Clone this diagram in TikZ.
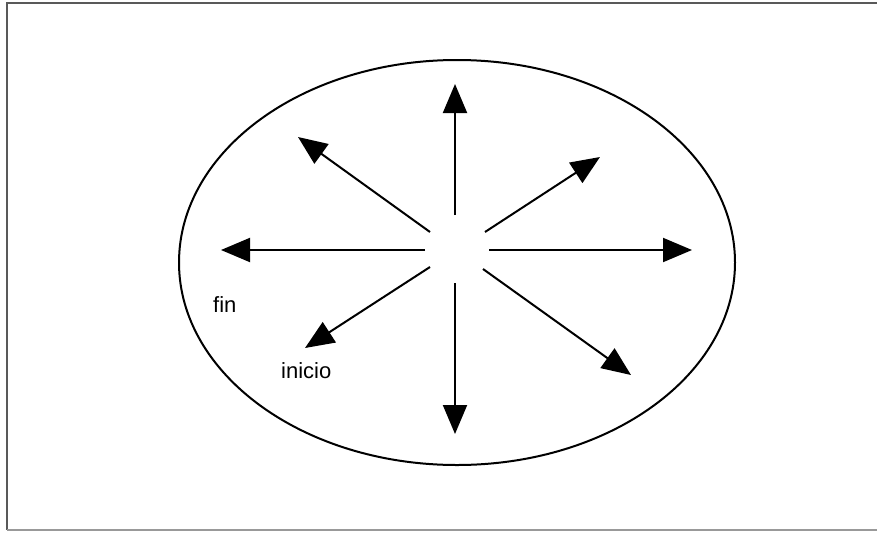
\documentclass[tikz,border=0pt]{standalone}
\usepackage{fontspec}
\setmainfont{Liberation Sans}
\usepackage{tikz}
\usetikzlibrary{arrows.meta, shapes.geometric, positioning}
\tikzset{
  ray/.style={-{Triangle[length=29pt, width=24pt]}, line width=2pt, draw=black},
  rim/.style={ellipse, draw=black, line width=2pt,
    minimum width=556pt, minimum height=405pt},
  txtbox/.style={rectangle, fill=white, inner sep=0pt, anchor=north west,
    align=left, font=\fontsize{22}{26}\selectfont},
  frameline/.style={line width=2pt, draw=black!65}
}

\begin{document}
\begin{tikzpicture}[x=1pt, y=-1pt]
  \useasboundingbox (0,0) rectangle (877,533);
  % frame
  \coordinate (ftr) at (877,3);
  \coordinate (ftl) at (7,3);
  \coordinate (fbl) at (7,530);
  \coordinate (fbr) at (877,530);
  \draw[frameline] (ftr) -- (ftl) -- (fbl);
  \draw[frameline, draw=black!40] (fbl) -- (fbr);
  % outer ellipse
  \node[rim] (rim) at (457,262.5) {};
  % rays from the centre
  \foreach \nm/\sx/\sy/\ex/\ey in {
    n/455/215/455/84, s/455/283/455/434,
    w/425/250/221/250, e/489/250/692/250,
    nw/430/232/298/137, ne/485/232/600/157,
    sw/430/267/305/348, se/483/269/631/375}{
    \coordinate (s\nm) at (\sx,\sy);
    \coordinate (e\nm) at (\ex,\ey);
    \draw[ray] (s\nm) -- (e\nm);
  }
  % labels
  \node[txtbox, minimum width=87pt, minimum height=43pt,
        text width=87pt, text depth=0pt] (fin) at (196,280)
        {\hspace*{17pt}\raisebox{-5pt}{fin}};
  \node[txtbox, minimum width=91pt, minimum height=45pt,
        text width=91pt] (inicio) at (262,348)
        {\hspace*{19pt}\raisebox{-6pt}{inicio}};
\end{tikzpicture}
\end{document}
